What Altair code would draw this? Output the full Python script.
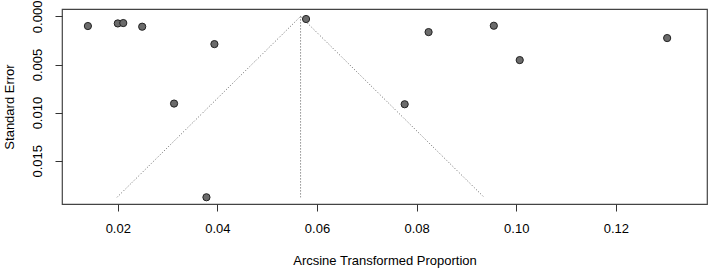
import altair as alt
import pandas as pd

# Study estimates (arcsine transformed proportion) and standard errors
estimates = [0.0140, 0.0200, 0.0211, 0.0249, 0.0394, 0.0578, 0.0824,
             0.0955, 0.1303, 0.1007, 0.0313, 0.0776, 0.0378]
std_errors = [0.00100, 0.00073, 0.00069, 0.00107, 0.00288, 0.00027, 0.00163,
              0.00097, 0.00225, 0.00454, 0.00906, 0.00913, 0.01880]

# Pooled estimate and funnel extent
pooled = 0.0567
se_max = 0.0188
z = 1.96

x_ticks = [0.02, 0.04, 0.06, 0.08, 0.10, 0.12]
y_ticks = [0.000, 0.005, 0.010, 0.015]

pts = pd.DataFrame({"est": estimates, "se": std_errors})
funnel = pd.DataFrame({
    "est": [pooled - z * se_max, pooled, pooled + z * se_max],
    "se": [se_max, 0.0, se_max],
    "order": [0, 1, 2],
})
vline = pd.DataFrame({"est": [pooled, pooled], "se": [0.0, se_max]})

FONT = "Liberation Sans"

xscale = alt.Scale(domain=[0.0088, 0.1383], nice=False, zero=False)
yscale = alt.Scale(domain=[-0.00077, 0.0195], nice=False, zero=False, reverse=True)

xenc = alt.X("est:Q", scale=xscale, axis=alt.Axis(
    title="Arcsine Transformed Proportion", values=x_ticks, format=".2f",
    grid=False, domain=False, tickSize=7, tickColor="#333", labelPadding=11,
    labelFontSize=13, labelFont=FONT, labelColor="#000",
    titleFont=FONT, titleFontSize=13, titleFontWeight="normal", titleColor="#000",
    titlePadding=19))
yenc = alt.Y("se:Q", scale=yscale, axis=alt.Axis(
    title="Standard Error", values=y_ticks, format=".3f",
    grid=False, domain=False, tickSize=7, tickColor="#333",
    labelAngle=270, labelAlign="center", labelBaseline="bottom", labelPadding=11,
    labelFontSize=13, labelFont=FONT, labelColor="#000",
    titleFont=FONT, titleFontSize=13, titleFontWeight="normal", titleColor="#000",
    titlePadding=15))

funnel_layer = alt.Chart(funnel).mark_line(
    color="#666", strokeWidth=1, strokeDash=[1, 2]
).encode(x=xenc, y=yenc, order="order:Q")

vline_layer = alt.Chart(vline).mark_line(
    color="#555", strokeWidth=1, strokeDash=[1, 2]
).encode(x="est:Q", y="se:Q")

point_layer = alt.Chart(pts).mark_point(
    shape="circle", filled=True, fill="#6b6b6b", stroke="#222",
    strokeWidth=1, size=52, opacity=1
).encode(x="est:Q", y="se:Q")

chart = alt.layer(funnel_layer, vline_layer, point_layer).properties(
    width=645, height=195,
    autosize=alt.AutoSizeParams(type="none"),
    padding={"left": 62, "top": 9, "right": 2, "bottom": 65},
    background="white",
).configure_view(stroke="#444", strokeWidth=1.2)

chart.save("out.html", embed_options={"renderer": "svg", "actions": False})
